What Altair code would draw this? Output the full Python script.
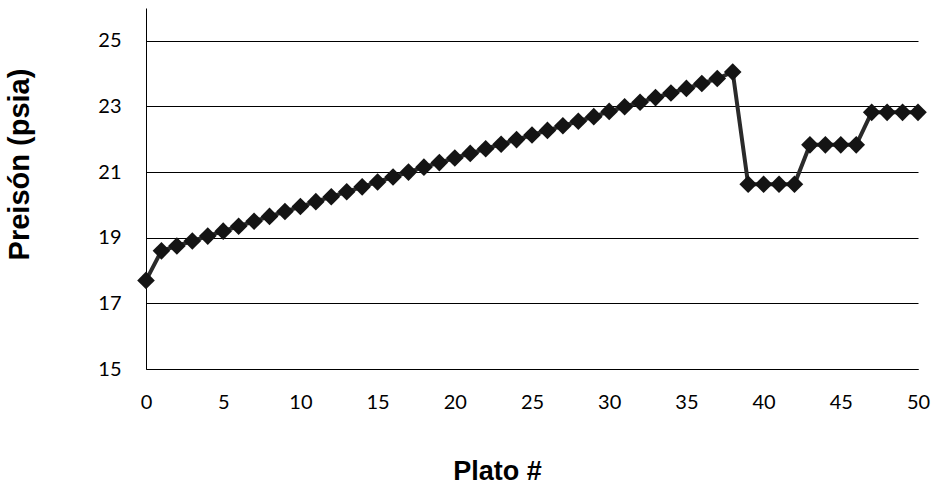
import altair as alt
import pandas as pd

plato = list(range(0, 51))
presion = [17.7, 18.6, 18.75, 18.9, 19.05, 19.2, 19.35, 19.5, 19.65, 19.8,
           19.95, 20.1, 20.25, 20.4, 20.55, 20.7, 20.85, 21.0, 21.15, 21.29,
           21.43, 21.57, 21.71, 21.85, 21.99, 22.13, 22.27, 22.41, 22.55, 22.69,
           22.85, 22.99, 23.13, 23.27, 23.41, 23.55, 23.7, 23.85, 24.05, 20.63,
           20.63, 20.63, 20.63, 21.83, 21.83, 21.83, 21.83, 22.82, 22.82, 22.82,
           22.82]

df = pd.DataFrame({"plato": plato, "presion": presion})

x = alt.X("plato:Q", title="Plato #",
          scale=alt.Scale(domain=[0, 50], nice=False),
          axis=alt.Axis(values=list(range(0, 51, 5)), grid=False, ticks=False,
                        labelFlush=False,
                        domainColor="black", labelFont="Lato", labelFontSize=20,
                        labelColor="black", labelPadding=23,
                        titleFont="Liberation Sans", titleFontSize=27, titleFontWeight="bold",
                        titleColor="black", titlePadding=46, titleX=351))
y = alt.Y("presion:Q", title="Preisón (psia)",
          scale=alt.Scale(domain=[15, 26], nice=False),
          axis=alt.Axis(values=[15, 17, 19, 21, 23, 25], grid=True, gridColor="black",
                        gridOpacity=1, gridWidth=1.2, ticks=False, domainColor="black",
                        labelFlush=False,
                        labelFont="Lato", labelFontSize=20, labelColor="black",
                        labelPadding=25, titleFont="Liberation Sans", titleFontSize=29,
                        titleFontWeight="bold", titleColor="black", titlePadding=63,
                        titleY=156))

line = alt.Chart(df).mark_line(color="#2a2a2a", strokeWidth=4).encode(x=x, y=y)
pts = alt.Chart(df).mark_point(shape="diamond", filled=True, color="#141414",
                               size=310, opacity=1).encode(x=x, y=y)

chart = (line + pts).properties(
    width=772, height=361,
    autosize=alt.AutoSizeParams(type="none"),
    padding={"left": 146, "top": 8, "right": 17, "bottom": 122},
    background="white",
).configure_view(stroke=None)

chart.save("out.html", embed_options={"renderer": "svg", "actions": False})
